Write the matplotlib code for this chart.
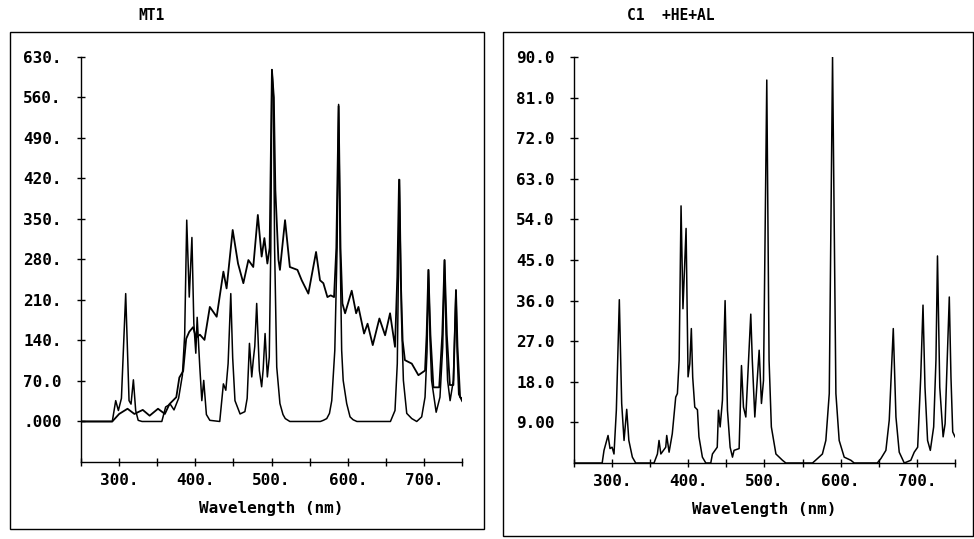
import numpy as np
import matplotlib
matplotlib.use('Agg')
import matplotlib.pyplot as plt
from matplotlib.patches import Rectangle

plt.rcParams['font.family'] = ['DejaVu Sans Mono']
plt.rcParams['font.weight'] = 'bold'

# MT1 lamp: line spectrum (thin) and continuum-rich spectrum
mt1_line_wl = [250, 291, 295.5, 299, 303, 308.6, 313, 315.6, 318.7, 321.7, 325, 330, 356, 361, 367,
               372, 378, 383, 386, 388.7, 392, 395.5, 398, 400.6, 402.4, 405.8, 408.5, 411, 414.5,
               419, 432, 436.8, 440, 443, 446.5, 449, 452, 458.7, 465, 468, 471, 474, 476, 478,
               480.5, 484, 487, 489, 491.5, 494.5, 497, 499, 500.5, 502.5, 504, 506.8, 511, 515,
               518, 524, 564, 568, 572.4, 576, 579, 583, 586, 588, 590, 592, 594, 598.6, 603, 607,
               612, 656, 662, 665, 668, 670.5, 673, 677.4, 684, 690.5, 697, 701.4, 704, 706, 708,
               710, 716, 721, 724.6, 727, 729, 731, 734.3, 738.6, 742, 743.5, 745.6, 750]
mt1_line_val = [0, 0, 36, 19, 40, 221, 36, 30, 72, 19, 2, 0, 0, 25, 30,
                20, 40, 80, 150, 348, 215, 318, 170, 118, 180, 95, 36, 71, 12,
                2, 0, 65, 54, 100, 221, 110, 36, 13, 17, 40, 135, 77, 106, 130,
                204, 88, 60, 90, 152, 77, 111, 300, 608, 560, 300, 94, 31, 12,
                5, 0, 0, 2, 5, 14, 36, 123, 300, 548, 300, 123, 71, 31, 8, 3,
                0, 0, 19, 100, 418, 181, 71, 14, 5, 0, 8, 42, 120, 262, 140,
                71, 16, 42, 129, 279, 150, 71, 36, 71, 227, 120, 47, 35]

mt1_cont_wl = [250, 291, 300, 311, 320, 331, 340, 351, 360, 366, 375, 379, 384, 388, 392, 397,
               401, 406, 412, 419, 428, 436.8, 441, 449, 456, 463, 469.6, 476, 482, 487, 490.6,
               494.5, 497.5, 500.5, 503, 505, 509, 511, 517.7, 524, 534, 539.6, 548.3, 558.4,
               563.6, 568, 573.3, 577.6, 582, 585, 588, 590.5, 593, 596.5, 605.2, 611, 614,
               621.4, 626, 632.8, 641.5, 649, 655.5, 662, 665, 667.3, 669.5, 672, 675, 684,
               692.7, 701.4, 703.5, 705.8, 708.5, 712.4, 720, 724, 727, 730, 734, 738.6, 740,
               742, 744, 747.4, 750]
mt1_cont_val = [0, 0, 13, 22, 13, 20, 10, 22, 13, 30, 42, 76, 87, 143, 155, 163,
                145, 150, 141, 198, 181, 259, 230, 331, 273, 239, 279, 267, 357, 285, 317,
                273, 300, 608, 560, 400, 280, 262, 348, 267, 262, 244, 221, 293,
                244, 239, 215, 218, 215, 300, 545, 300, 204, 187, 226, 187, 198,
                152, 169, 132, 178, 149, 187, 129, 250, 418, 250, 140, 106, 100,
                80, 88, 150, 262, 150, 59, 59, 150, 279, 150, 63, 63, 130,
                227, 130, 42, 40]

# C1 +HE+AL spectrum
c1_wl = [250, 287, 289.4, 294.7, 297.3, 300, 302.5, 305.6, 309.5, 312.6, 315.7, 319.2, 322, 326.6,
         331, 355, 359.5, 361.6, 364, 370.4, 371.7, 374.8, 379, 383.5, 385.7, 388, 390.5, 393,
         397.1, 399.7, 402, 404, 405.8, 408.5, 412, 414, 418.5, 423, 429.5, 431.7, 438, 439.6,
         441.8, 444.8, 448.3, 451.4, 454.9, 458, 460, 466.7, 469.8, 472.4, 475.5, 482, 484,
         487.3, 493, 496, 498.7, 503, 506, 509, 515, 523.6, 528, 563, 569.6, 576, 580.5, 585,
         589.3, 593.7, 598, 604.6, 613.4, 617.7, 648, 652.8, 659.3, 663.7, 669, 672.5, 676.8,
         683.4, 692, 696.5, 701, 705, 708, 710.6, 714, 717.6, 722, 725, 727, 730, 734.4, 737,
         742.5, 744.7, 747, 750]
c1_val = [0, 0, 2.8, 6.1, 3.2, 3.5, 2.0, 11.7, 36.2, 13.2, 5.0, 11.9, 5.0, 1.3,
          0, 0, 2.0, 5.0, 2.0, 3.5, 6.1, 2.4, 6.5, 14.6, 15.4, 22.8, 57.0, 34.2,
          52.0, 19.1, 22.0, 29.8, 19.0, 12.4, 11.8, 5.8, 1.3, 0, 0, 2.0, 3.5, 11.7,
          8.0, 13.9, 36.0, 11.7, 3.5, 1.3, 2.8, 3.2, 21.6, 12.4, 10.2, 33.0, 22.8,
          10.2, 25.0, 13.2, 18.3, 84.9, 22.8, 8.0, 2.0, 0.6, 0, 0, 1.0, 2.0, 5.0, 15.4,
          90.0, 15.4, 5.0, 1.3, 0.6, 0, 0, 1.0, 2.8, 9.5, 29.8, 10.2, 2.4,
          0, 0.6, 2.4, 3.5, 19.0, 35.0, 16.8, 5.0, 2.8, 8.0, 22.8, 45.9, 16.8, 5.8, 8.7,
          36.8, 19.0, 6.9, 5.8]

x_ticks = [250, 300, 350, 400, 450, 500, 550, 600, 650, 700, 750]
x_labels = ['', '300.', '', '400.', '', '500.', '', '600.', '', '700.', '']
left_yticks = [0, 70, 140, 210, 280, 350, 420, 490, 560, 630]
left_ylabels = ['.000', '70.0', '140.', '210.', '280.', '350.', '420.', '490.', '560.', '630.']
right_yticks = [9, 18, 27, 36, 45, 54, 63, 72, 81, 90]
right_ylabels = ['9.00', '18.0', '27.0', '36.0', '45.0', '54.0', '63.0', '72.0', '81.0', '90.0']

FS = 11.5

fig = plt.figure(figsize=(9.74, 5.39), dpi=100)

# outer frames around each panel
fig.patches.append(Rectangle((0.0103, 0.0185), 0.4867, 0.9221, transform=fig.transFigure,
                             fill=False, lw=1.0, ec='black'))
fig.patches.append(Rectangle((0.5164, 0.0056), 0.4826, 0.9350, transform=fig.transFigure,
                             fill=False, lw=1.0, ec='black'))

ax1 = fig.add_axes([0.0832, 0.1429, 0.3912, 0.7514])
ax2 = fig.add_axes([0.5893, 0.1410, 0.3912, 0.7532])

ax1.plot(mt1_cont_wl, mt1_cont_val, color='black', lw=1.3)
ax1.plot(mt1_line_wl, mt1_line_val, color='black', lw=1.1)
ax1.set_ylim(-70, 630)
ax1.set_yticks(left_yticks)
ax1.set_yticklabels(left_ylabels)
ax1.spines['left'].set_bounds(-70, 630)

ax2.plot(c1_wl, c1_val, color='black', lw=1.1)
ax2.set_ylim(0, 90)
ax2.set_yticks(right_yticks)
ax2.set_yticklabels(right_ylabels)

for ax in (ax1, ax2):
    ax.set_xlim(250, 750)
    ax.set_xticks(x_ticks)
    ax.set_xticklabels(x_labels)
    ax.spines['top'].set_visible(False)
    ax.spines['right'].set_visible(False)
    ax.spines['left'].set_linewidth(1.0)
    ax.spines['bottom'].set_linewidth(1.0)
    ax.tick_params(axis='both', direction='inout', length=6, width=1.0, labelsize=FS)
    ax.tick_params(axis='y', pad=11)
    ax.tick_params(axis='x', pad=5)
    ax.set_xlabel('Wavelength (nm)', fontsize=FS, fontweight='bold')
    ax.xaxis.set_label_coords(0.5, -0.097)
    ax.set_facecolor('none')

fig.text(0.156, 0.972, 'MT1', ha='center', va='center', fontsize=FS - 1, fontweight='bold')
fig.text(0.689, 0.972, 'C1  +HE+AL', ha='center', va='center', fontsize=FS - 1, fontweight='bold')

fig.savefig('out.png', dpi=100)
